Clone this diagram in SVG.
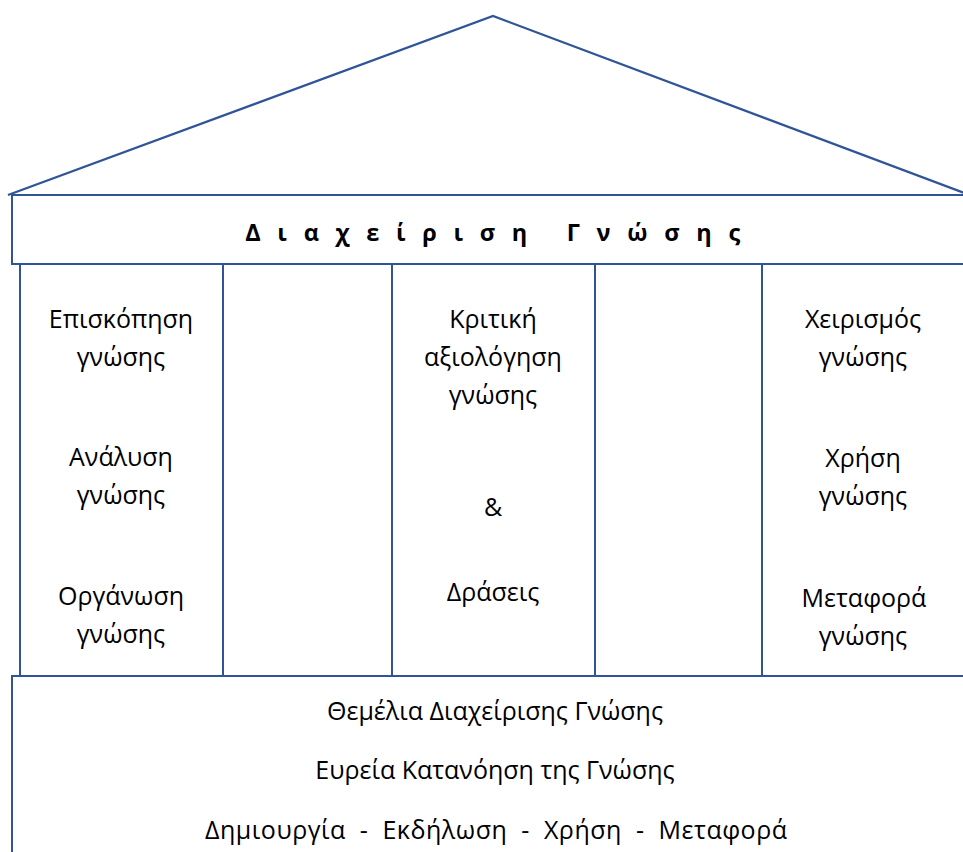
<svg xmlns="http://www.w3.org/2000/svg" width="963" height="852" viewBox="0 0 963 852">
  <style>
    .frame { fill: #ffffff; stroke: #2F5597; stroke-width: 2; }
    .roof { fill: none; stroke: #2F5597; stroke-width: 2.2; stroke-linejoin: miter; }
    .lbl { font-family: "Open Sans", "Liberation Sans", sans-serif; font-size: 25px; fill: #000000; text-anchor: middle; }
    .title { font-family: "Open Sans", "Liberation Sans", sans-serif; font-size: 23.5px; font-weight: bold; fill: #000000; text-anchor: middle; letter-spacing: 16.7px; }
  </style>
  <rect width="963" height="852" fill="#ffffff"/>

  <!-- roof -->
  <g id="roof">
    <polyline class="roof" points="8,195 493,16 975,197"/>
  </g>

  <!-- beam with the title -->
  <g id="beam">
    <rect class="frame" x="12" y="195" width="970" height="69"/>
    <text class="title" x="501" y="241">Διαχείριση Γνώσης</text>
  </g>

  <!-- left pillar -->
  <g id="pillar-left">
    <rect class="frame" x="20" y="264" width="203" height="412"/>
    <text class="lbl" x="121" y="328">Επισκόπηση</text>
    <text class="lbl" x="121" y="366">γνώσης</text>
    <text class="lbl" x="121" y="466">Ανάλυση</text>
    <text class="lbl" x="121" y="504">γνώσης</text>
    <text class="lbl" x="121" y="605">Οργάνωση</text>
    <text class="lbl" x="121" y="643">γνώσης</text>
  </g>

  <!-- middle pillar -->
  <g id="pillar-middle">
    <rect class="frame" x="392" y="264" width="203" height="412"/>
    <text class="lbl" x="493" y="328">Κριτική</text>
    <text class="lbl" x="493" y="366">αξιολόγηση</text>
    <text class="lbl" x="493" y="404">γνώσης</text>
    <text class="lbl" x="493" y="516">&amp;</text>
    <text class="lbl" x="493" y="601">Δράσεις</text>
  </g>

  <!-- right pillar -->
  <g id="pillar-right">
    <rect class="frame" x="762" y="264" width="220" height="412"/>
    <text class="lbl" x="863" y="328">Χειρισμός</text>
    <text class="lbl" x="863" y="366">γνώσης</text>
    <text class="lbl" x="863" y="467">Χρήση</text>
    <text class="lbl" x="863" y="505">γνώσης</text>
    <text class="lbl" x="864" y="607">Μεταφορά</text>
    <text class="lbl" x="863" y="645">γνώσης</text>
  </g>

  <!-- foundation -->
  <g id="foundation">
    <rect class="frame" x="12" y="676" width="970" height="190"/>
    <text class="lbl" x="495" y="720">Θεμέλια Διαχείρισης Γνώσης</text>
    <text class="lbl" x="495" y="779">Ευρεία Κατανόηση της Γνώσης</text>
    <text class="lbl" x="496" y="839" textLength="582" lengthAdjust="spacing" xml:space="preserve">Δημιουργία  -  Εκδήλωση  -  Χρήση  -  Μεταφορά</text>
  </g>
</svg>
